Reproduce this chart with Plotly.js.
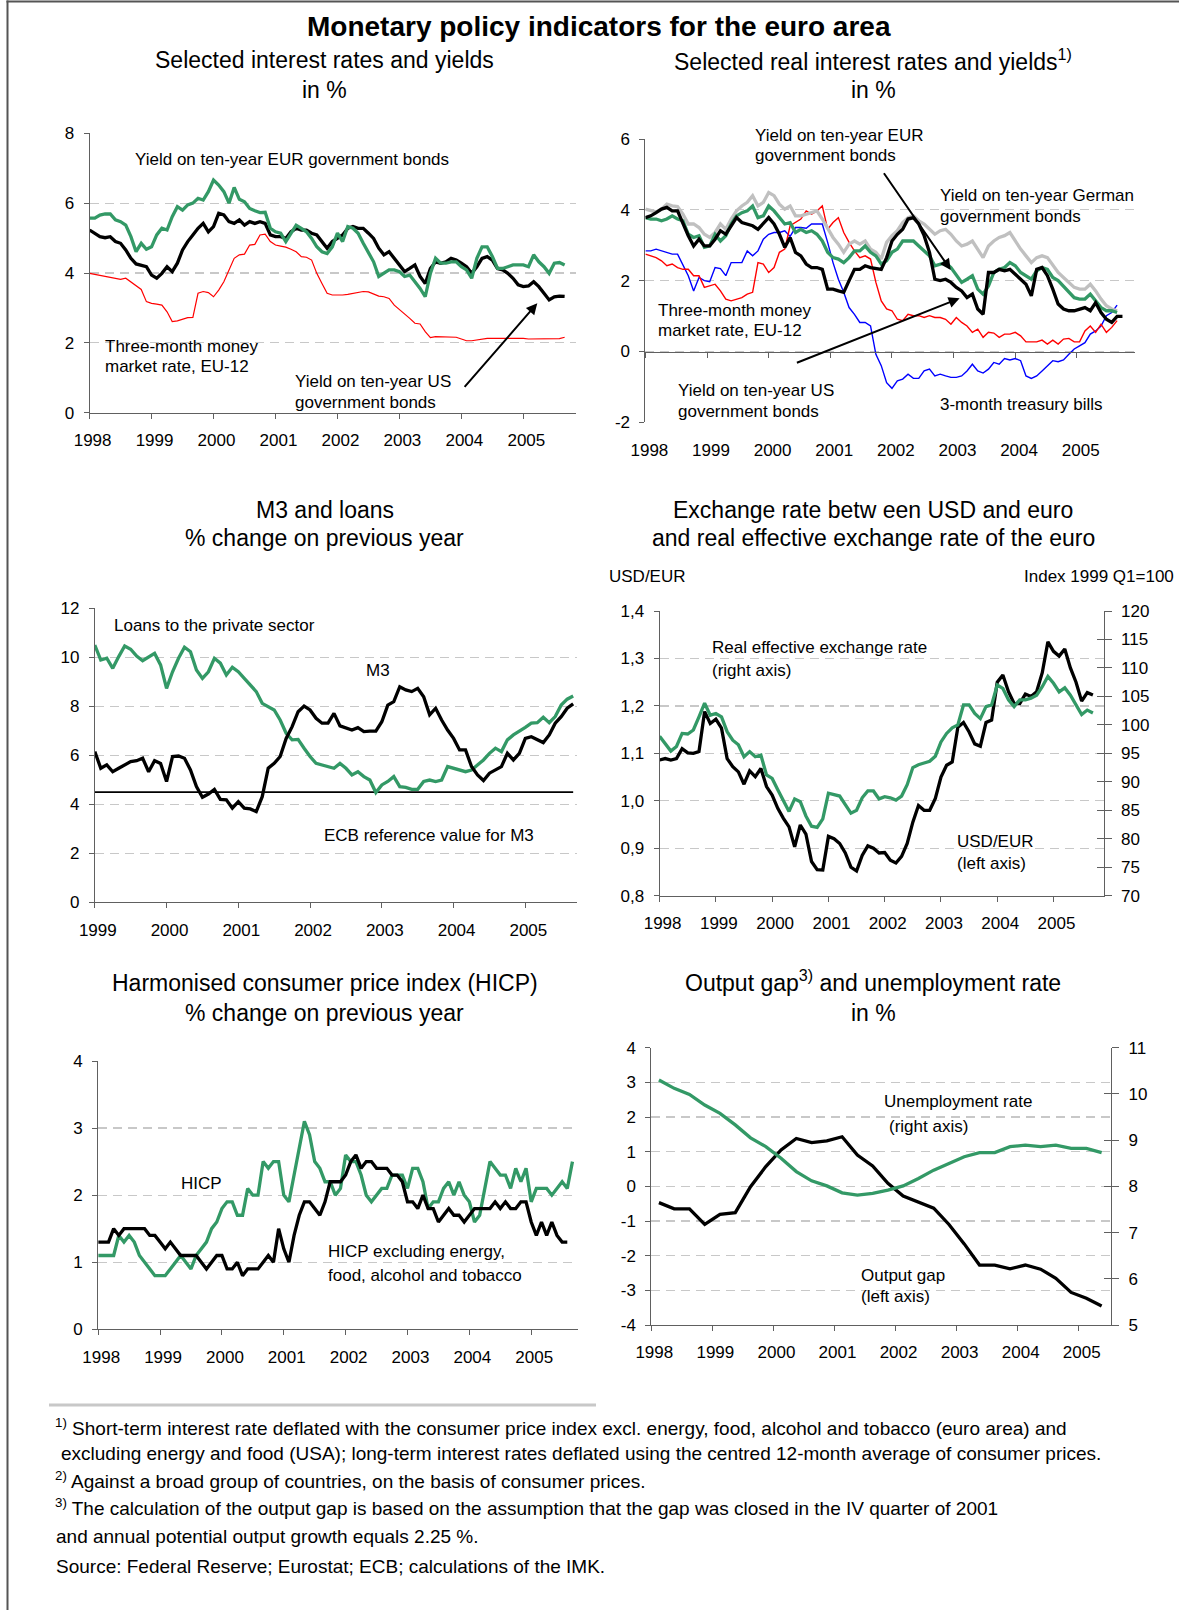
<!DOCTYPE html>
<html>
<head>
<meta charset="utf-8">
<title>Monetary policy indicators for the euro area</title>
<script src="https://cdn.plot.ly/plotly-3.0.1.min.js"></script>
<style>
html,body{margin:0;padding:0;background:#fff;}
#chart{width:1179px;height:1610px;}
</style>
</head>
<body>
<div id="chart"></div>
<script>
// ================= DATA =================
// Panel 1: Selected interest rates and yields, in % (monthly from Jan 1998)
const ratesStart = 1998;
const ratesStep = 1 / 12;
const eurGovYield10y = [5.57,5.57,5.66,5.69,5.69,5.52,5.47,5.37,5.04,4.61,
  4.85,4.68,4.75,5.09,5.28,5.23,5.61,5.9,5.8,5.95,6.0,6.14,6.09,6.33,6.66,6.52,6.33,6.0,6.45,6.11,
  6.04,5.85,5.78,5.73,5.74,5.28,5.18,5.14,4.9,5.14,5.37,5.28,5.18,4.99,4.75,4.61,4.56,4.75,5.14,4.9,
  5.33,5.28,5.14,4.85,4.56,4.32,3.9,3.99,4.09,4.09,4.04,3.9,3.94,3.75,3.56,3.32,3.99,4.42,4.28,4.28,
  4.32,4.32,4.18,4.09,3.85,4.42,4.75,4.75,4.47,4.13,4.13,4.18,4.23,4.23,4.23,4.18,4.52,4.32,4.18,3.99,
  4.28,4.3,4.23];
const usGovYield10y = [5.23,5.14,5.04,5.01,5.04,4.9,4.85,4.66,4.42,4.26,
  4.23,4.18,3.94,3.85,3.99,4.18,4.04,4.28,4.66,4.9,
  5.09,5.28,5.42,5.18,5.33,5.71,5.66,5.47,5.42,5.52,
  5.37,5.47,5.42,5.47,5.42,5.09,5.04,5.04,4.99,5.18,
  5.28,5.23,5.23,5.14,5.09,4.9,4.71,4.9,4.99,5.09,
  5.28,5.33,5.28,5.28,5.14,4.99,4.71,4.52,4.61,4.42,
  4.23,4.04,4.13,4.23,3.9,3.7,4.13,4.32,4.28,4.32,
  4.42,4.37,4.28,4.18,3.99,4.18,4.42,4.47,4.37,4.13,
  4.09,3.99,3.85,3.66,3.61,3.63,3.75,3.61,3.42,3.23,
  3.32,3.34,3.33];
const euMoneyMarket3m = [3.99,3.96,3.94,3.92,3.87,3.85,3.82,3.85,3.75,3.64,
  3.53,3.18,3.13,3.11,3.08,2.89,2.61,2.63,2.68,2.72,
  2.73,3.42,3.47,3.44,3.32,3.51,3.75,4.09,4.42,4.52,
  4.54,4.8,4.82,5.09,5.11,4.9,4.8,4.77,4.74,4.68,
  4.61,4.47,4.45,4.37,3.99,3.7,3.42,3.37,3.36,3.37,
  3.39,3.42,3.44,3.47,3.46,3.4,3.34,3.32,3.27,3.08,
  2.96,2.83,2.7,2.56,2.54,2.32,2.15,2.18,2.18,2.18,
  2.18,2.16,2.11,2.06,2.06,2.08,2.12,2.13,2.13,2.13,
  2.15,2.15,2.15,2.15,2.13,2.11,2.11,2.11,2.11,2.11,
  2.11,2.12,2.16];

// Panel 2: Selected real interest rates and yields, in % (sampled about every 1.04 months from Jan 1998)
const realStart = 1998;
const realStep = 0.087;
const realGermanYield10y = [4.02,3.97,3.94,4.02,4.16,4.11,4.09,3.88,3.6,3.6,
  3.5,3.31,3.22,3.36,3.6,3.45,3.74,3.97,4.11,4.21,
  4.4,4.11,4.21,4.49,4.4,4.16,4.02,4.11,3.83,3.83,
  3.88,3.92,3.97,3.74,3.5,3.22,3.03,2.8,3.03,3.12,
  3.03,3.12,2.89,2.8,2.61,3.08,3.27,3.41,3.64,3.78,
  3.83,3.69,3.6,3.45,3.31,3.41,3.45,3.31,3.12,2.98,
  3.03,3.12,2.89,2.65,2.98,3.12,3.22,3.27,3.36,3.12,
  2.89,2.7,2.51,2.65,2.7,2.65,2.42,2.23,2.09,1.95,
  1.81,1.76,1.76,1.9,1.71,1.48,1.29,1.2,1.15];
const realEurYield10y = [3.78,3.74,3.74,3.69,3.74,3.83,3.74,3.69,3.31,3.22,
  3.27,2.94,2.98,3.31,3.12,3.27,3.6,3.83,3.92,3.97,
  4.11,3.78,3.83,4.11,3.97,3.78,3.6,3.64,3.36,3.45,
  3.36,3.41,3.31,3.12,2.8,2.65,2.61,2.51,2.65,2.84,
  2.84,2.98,2.8,2.7,2.47,2.56,2.8,2.89,3.12,3.12,
  3.12,2.98,2.84,2.7,2.42,2.47,2.51,2.37,2.14,1.95,
  2.04,2.14,1.76,1.62,1.85,2.23,2.32,2.37,2.51,2.42,
  2.23,2.14,2.04,2.28,2.37,2.32,2.09,2.0,1.85,1.67,
  1.52,1.48,1.48,1.62,1.43,1.24,1.15,1.15,1.1];
const realUsYield10y = [3.78,3.83,3.92,4.02,4.07,3.97,3.97,3.6,3.27,2.98,
  3.17,2.98,2.98,3.17,3.41,3.31,3.55,3.78,3.64,3.6,
  3.55,3.45,3.6,3.78,3.6,3.31,2.94,3.22,2.8,2.7,
  2.47,2.37,2.37,2.32,1.76,1.76,1.71,1.67,2.0,2.32,
  2.32,2.42,2.37,2.34,2.32,2.65,3.12,3.31,3.45,3.74,
  3.78,3.6,3.27,2.8,2.04,2.0,2.04,1.95,1.81,1.71,
  1.52,1.62,1.2,1.05,2.23,2.23,2.32,2.28,2.32,2.18,
  2.04,1.9,1.57,2.32,2.37,2.14,1.76,1.34,1.2,1.15,
  1.15,1.2,1.24,1.15,1.38,1.1,0.91,0.82,0.99,0.99];
const realEuMoneyMarket3m = [2.75,2.7,2.65,2.56,2.42,2.47,2.37,2.32,2.32,2.14,
  2.14,1.81,1.85,1.9,1.71,1.48,1.43,1.48,1.52,1.62,
  1.67,2.51,2.47,2.23,2.37,2.8,2.89,3.55,3.64,3.74,
  3.97,3.88,3.97,4.11,3.45,3.64,3.78,3.36,3.08,2.84,
  2.65,2.7,2.61,1.95,1.43,1.2,1.15,0.91,0.87,1.05,
  1.01,1.01,0.96,1.01,0.96,0.96,0.91,0.77,0.96,0.82,
  0.72,0.54,0.63,0.4,0.54,0.52,0.4,0.49,0.49,0.54,
  0.44,0.27,0.27,0.27,0.32,0.21,0.32,0.21,0.35,0.37,
  0.27,0.27,0.58,0.72,0.54,0.77,0.54,0.68,0.87];
const realUsTreasury3m = [2.84,2.84,2.89,2.84,2.8,2.75,2.75,2.42,2.14,1.71,
  2.09,2.0,1.97,2.37,2.34,2.14,2.51,2.51,2.51,2.84,
  2.7,2.84,3.17,3.31,3.36,3.36,3.41,3.25,3.5,3.5,
  3.48,3.6,3.6,3.6,3.08,2.51,2.04,1.67,1.24,1.05,
  0.82,0.82,0.72,-0.08,-0.4,-0.88,-1.04,-0.83,-0.78,-0.64,
  -0.76,-0.76,-0.55,-0.5,-0.69,-0.64,-0.69,-0.73,-0.73,-0.69,
  -0.55,-0.36,-0.55,-0.61,-0.5,-0.31,-0.36,-0.2,-0.24,-0.2,
  -0.26,-0.69,-0.76,-0.69,-0.55,-0.4,-0.26,-0.29,-0.24,-0.08,
  0.07,0.16,0.25,0.49,0.58,0.72,1.01,1.1,1.31];

// Panel 3: M3 and loans, % change on previous year (monthly from Jan 1999)
const moneyStart = 1999;
const moneyStep = 1 / 12;
const loansPrivateSector = [10.5,9.89,9.96,9.55,10.03,10.46,10.33,10.05,9.86,10.03,
  10.16,9.69,8.73,9.41,9.96,10.41,10.23,9.48,9.14,9.41,
  9.96,9.76,9.28,9.59,9.41,9.14,8.87,8.6,8.12,7.99,
  7.85,7.44,6.9,6.63,6.65,6.29,5.95,5.67,5.61,5.54,
  5.47,5.67,5.47,5.2,5.33,5.13,4.99,4.48,4.79,4.93,
  5.13,4.72,4.69,4.61,4.61,4.93,4.99,4.93,4.99,5.54,
  5.47,5.43,5.33,5.4,5.61,5.81,6.08,6.29,6.15,6.63,
  6.83,6.97,7.14,7.31,7.33,7.55,7.33,7.58,8.05,8.29,
  8.42];
const m3Growth = [6.15,5.47,5.61,5.33,5.47,5.61,5.74,5.78,5.88,5.33,
  5.78,5.67,4.93,5.95,5.97,5.88,5.4,4.72,4.29,4.42,
  4.61,4.2,4.18,3.84,4.11,3.84,3.81,3.7,4.31,5.47,
  5.67,5.95,6.69,7.17,7.78,8.01,7.85,7.51,7.31,7.31,
  7.71,7.2,7.1,7.03,7.13,6.97,6.99,6.99,7.37,8.05,
  8.19,8.8,8.67,8.6,8.73,8.39,7.65,7.92,7.44,7.03,
  6.69,6.22,6.22,5.54,5.2,4.97,5.27,5.4,5.54,6.08,
  5.81,6.08,6.69,6.76,6.63,6.52,6.83,7.31,7.58,7.92,
  8.1];
const ecbReferenceM3 = 4.5;

// Panel 4: USD/EUR (left) and real effective exchange rate, index 1999 Q1 = 100 (right)
const fxStart = 1998;
const fxStep = 0.1;
const usdPerEur = [1.086,1.089,1.086,1.089,1.11,1.101,1.1,1.104,1.188,1.163,
  1.172,1.153,1.089,1.072,1.061,1.035,1.063,1.051,1.068,1.03,
  1.012,0.984,0.963,0.945,0.903,0.949,0.93,0.872,0.855,0.854,
  0.925,0.92,0.91,0.89,0.86,0.852,0.885,0.905,0.9,0.89,
  0.891,0.875,0.869,0.883,0.91,0.955,0.99,0.98,0.98,1.005,
  1.05,1.075,1.082,1.155,1.165,1.145,1.12,1.115,1.165,1.17,
  1.25,1.265,1.23,1.205,1.205,1.225,1.22,1.23,1.27,1.335,
  1.315,1.305,1.32,1.28,1.25,1.21,1.228,1.223];
const realEffectiveRate = [98.0,96.8,95.4,96.2,98.5,98.4,99.1,101.4,103.8,101.7,
  102.0,101.4,98.8,97.3,96.5,94.4,95.3,94.4,94.7,91.2,
  90.6,88.6,86.8,84.8,87.0,86.5,84.0,82.2,82.0,83.5,
  88.0,87.8,87.5,86.0,84.5,85.0,87.2,88.4,88.4,87.0,
  87.4,87.2,86.8,87.5,89.5,92.5,93.0,93.3,93.6,94.5,
  97.0,98.5,99.5,100.0,103.5,103.5,102.0,101.1,103.2,103.5,
  107.0,106.4,104.4,103.2,104.4,104.4,104.7,105.2,106.7,108.5,
  107.3,105.8,106.5,105.2,103.5,101.8,102.6,102.1];

// Panel 5: HICP, % change on previous year (monthly from Jan 1998)
const hicpStart = 1998;
const hicpStep = 1 / 12;
const hicp = [1.1,1.1,1.1,1.1,1.4,1.3,1.4,1.3,1.1,1.0,
  0.9,0.8,0.8,0.8,0.9,1.0,1.1,1.0,0.9,1.1,
  1.2,1.3,1.5,1.6,1.8,1.9,1.9,1.7,1.7,2.1,
  2.0,2.0,2.5,2.4,2.5,2.5,2.0,1.9,2.3,2.7,
  3.1,2.9,2.5,2.4,2.2,2.2,2.0,2.1,2.6,2.5,
  2.5,2.3,2.0,1.9,2.0,2.1,2.1,2.3,2.3,2.3,
  2.1,2.4,2.4,2.2,1.8,1.9,1.9,2.1,2.2,2.0,
  2.2,2.0,1.9,1.6,1.7,2.1,2.5,2.4,2.3,2.3,
  2.1,2.4,2.2,2.4,1.9,2.1,2.1,2.1,2.0,2.1,
  2.2,2.1,2.5];
const hicpCore = [1.3,1.3,1.3,1.5,1.4,1.5,1.5,1.5,1.5,1.5,
  1.4,1.4,1.3,1.2,1.3,1.2,1.1,1.1,1.1,1.1,
  1.0,0.9,1.0,1.1,1.1,0.9,0.9,1.0,0.8,0.9,
  0.9,0.9,1.0,1.1,1.0,1.5,1.2,1.0,1.4,1.7,
  1.9,1.9,1.8,1.7,1.9,2.2,2.2,2.2,2.3,2.5,
  2.6,2.4,2.5,2.5,2.4,2.4,2.4,2.3,2.3,2.2,
  1.9,1.9,1.8,2.0,1.8,1.8,1.6,1.7,1.8,1.7,
  1.7,1.6,1.7,1.8,1.8,1.8,1.8,1.9,1.8,1.9,
  1.8,1.8,1.9,1.9,1.6,1.4,1.6,1.4,1.6,1.4,
  1.3,1.3];

// Panel 6: output gap (left, %) and unemployment rate (right, %), quarterly from 1998 Q1
const gapStart = 1998.125;
const gapStep = 0.25;
const outputGap = [-0.47,-0.65,-0.65,-1.1,-0.81,-0.76,-0.01,0.57,1.05,1.38,
  1.26,1.31,1.43,0.9,0.59,0.09,-0.28,-0.46,-0.63,-1.1,
  -1.66,-2.27,-2.27,-2.38,-2.27,-2.39,-2.65,-3.06,-3.23,-3.45];
const unemploymentRate = [10.3,10.12,9.99,9.76,9.58,9.33,9.05,8.86,8.61,8.32,
  8.12,8.01,7.86,7.81,7.85,7.92,8.01,8.17,8.35,8.5,
  8.64,8.73,8.73,8.86,8.89,8.86,8.89,8.82,8.82,8.73];

// Tick labels
const years1998 = [1998,1999,2000,2001,2002,2003,2004,2005];
const years1999 = [1999,2000,2001,2002,2003,2004,2005];
const realRateTicks = [-2,0,2,4,6];
const realRateLabels = ['-2','0','2','4','6'];
const gapTicks = [-4,-3,-2,-1,0,1,2,3,4];
const gapLabels = ['-4','-3','-2','-1','0','1','2','3','4'];

// ================= STYLE / LAYOUT =================
const W = 1179, H = 1610;
const fx = p => p / W;
const fy = p => 1 - p / H;
const FONT = '"Liberation Sans", Arial, Helvetica, sans-serif';
const AX = '#606060';
const GREEN = '#339966';
const TICKF = {family: FONT, size: 17, color: '#000'};
const LBL = 17;     // in-chart labels
const SUB = 23;     // panel titles
const NOTE = 19;    // footnotes

function xAxis(l, r, range, anchor, vals, extra) {
  return Object.assign({
    domain: [fx(l), fx(r)], range: range, anchor: anchor,
    tickmode: 'array', tickvals: vals, ticktext: vals.map(String),
    showgrid: false, zeroline: false, showline: true, linecolor: AX, linewidth: 1,
    ticks: 'outside', ticklen: 5, tickwidth: 1, tickcolor: AX,
    tickfont: TICKF, ticklabelshift: 3, ticklabelstandoff: 7, fixedrange: true
  }, extra || {});
}
function yAxis(top, bottom, range, dtick, anchor, extra) {
  return Object.assign({
    domain: [fy(bottom), fy(top)], range: range, tick0: range[0], dtick: dtick, anchor: anchor,
    showgrid: true, gridcolor: '#c8c8c8', gridwidth: 1.2, griddash: '9px,6px',
    zeroline: false, showline: true, linecolor: AX, linewidth: 1,
    ticks: 'outside', ticklen: 5, tickwidth: 1, tickcolor: AX,
    tickfont: TICKF, ticklabelstandoff: 6, fixedrange: true
  }, extra || {});
}
function yRight(range, dtick, anchor, overlaying, inside) {
  return {
    overlaying: overlaying, side: 'right', anchor: anchor, range: range, tick0: range[0], dtick: dtick,
    showgrid: false, zeroline: false, showline: !inside, linecolor: AX, linewidth: 1,
    ticks: inside ? 'inside' : 'outside', ticklen: 7, tickwidth: 1, tickcolor: AX,
    showticklabels: !inside, tickfont: TICKF, ticklabelstandoff: 6, fixedrange: true
  };
}
function series(y, x0, dx, xa, ya, color, width) {
  return {type: 'scatter', mode: 'lines', x0: x0, dx: dx, y: y, xaxis: xa, yaxis: ya,
    line: {color: color, width: width}, hoverinfo: 'skip', showlegend: false};
}
function txt(text, x, y, size, anchor, extra) {
  return Object.assign({xref: 'paper', yref: 'paper', x: fx(x), y: fy(y), text: text, showarrow: false,
    xanchor: anchor || 'left', yanchor: 'middle', align: anchor || 'left',
    font: {family: FONT, size: size, color: '#000'}}, extra || {});
}
function arrow(hx, hy, tx, ty) {
  return {xref: 'paper', yref: 'paper', x: fx(hx), y: fy(hy), ax: tx - hx, ay: ty - hy,
    axref: 'pixel', ayref: 'pixel', text: '', showarrow: true, arrowhead: 2, arrowsize: 1.1,
    arrowwidth: 2, arrowcolor: '#000', standoff: 0};
}

const traces = [
  // Panel 1
  series(euMoneyMarket3m, ratesStart, ratesStep, 'x', 'y', '#ff0000', 1.2),
  series(usGovYield10y, ratesStart, ratesStep, 'x', 'y', '#000000', 3.3),
  series(eurGovYield10y, ratesStart, ratesStep, 'x', 'y', GREEN, 3.3),
  // Panel 2
  series(realUsTreasury3m, realStart, realStep, 'x2', 'y2', '#0000ff', 1.4),
  series(realEuMoneyMarket3m, realStart, realStep, 'x2', 'y2', '#ff0000', 1.4),
  series(realGermanYield10y, realStart, realStep, 'x2', 'y2', '#c0c0c0', 3.3),
  series(realEurYield10y, realStart, realStep, 'x2', 'y2', GREEN, 3.3),
  series(realUsYield10y, realStart, realStep, 'x2', 'y2', '#000000', 3.3),
  // Panel 3
  {type: 'scatter', mode: 'lines', xaxis: 'x3', yaxis: 'y3', hoverinfo: 'skip', showlegend: false,
   x: [moneyStart, moneyStart + (m3Growth.length - 1) * moneyStep], y: [ecbReferenceM3, ecbReferenceM3],
   line: {color: '#000', width: 1.8}},
  series(loansPrivateSector, moneyStart, moneyStep, 'x3', 'y3', GREEN, 3.3),
  series(m3Growth, moneyStart, moneyStep, 'x3', 'y3', '#000000', 3.3),
  // Panel 4
  series(realEffectiveRate, fxStart, fxStep, 'x4', 'y7', GREEN, 3.3),
  series(usdPerEur, fxStart, fxStep, 'x4', 'y4', '#000000', 3.3),
  // Panel 5
  series(hicp, hicpStart, hicpStep, 'x5', 'y5', GREEN, 3.3),
  series(hicpCore, hicpStart, hicpStep, 'x5', 'y5', '#000000', 3.3),
  // Panel 6
  series(unemploymentRate, gapStart, gapStep, 'x6', 'y9', GREEN, 3.3),
  series(outputGap, gapStart, gapStep, 'x6', 'y6', '#000000', 3.3),
  // empty helpers so that overlay axes are created
  {type: 'scatter', x: [], y: [], xaxis: 'x7', yaxis: 'y2', hoverinfo: 'skip', showlegend: false},
  {type: 'scatter', x: [], y: [], xaxis: 'x4', yaxis: 'y8', hoverinfo: 'skip', showlegend: false},
  {type: 'scatter', x: [], y: [], xaxis: 'x6', yaxis: 'y10', hoverinfo: 'skip', showlegend: false}
];

const layout = {
  width: W, height: H, margin: {l: 0, r: 0, t: 0, b: 0},
  paper_bgcolor: '#fff', plot_bgcolor: 'rgba(0,0,0,0)', showlegend: false,
  separators: ',.',
  font: {family: FONT, color: '#000'},
  // Panel 1
  xaxis: xAxis(89.6, 576, [1998, 2005.85], 'y', years1998),
  yaxis: yAxis(133.3, 412.7, [0, 8], 2, 'x'),
  // Panel 2
  xaxis2: xAxis(645.4, 1134.6, [1998, 2005.94], 'y2', years1998,
    {showline: false, ticklen: 12, tickcolor: 'rgba(0,0,0,0)', ticklabelshift: 4, ticklabelstandoff: 0}),
  xaxis7: xAxis(645.4, 1134.6, [1998, 2005.94], 'free', years1998,
    {overlaying: 'x2', position: fy(352.3), showticklabels: false}),
  yaxis2: yAxis(139, 422.3, [-2, 6], 2, 'x2',
    {tickmode: 'array', tickvals: realRateTicks, ticktext: realRateLabels}),
  // Panel 3
  xaxis3: xAxis(94.8, 577, [1999, 2005.72], 'y3', years1999),
  yaxis3: yAxis(608.3, 902.3, [0, 12], 2, 'x3'),
  // Panel 4
  xaxis4: xAxis(659.6, 1103.6, [1998, 2005.89], 'y4', years1998),
  yaxis4: yAxis(611, 895.7, [0.8, 1.4], 0.1, 'x4', {tickformat: '.1f'}),
  yaxis7: yRight([70, 120], 5, 'x4', 'y4', false),
  yaxis8: yRight([70, 120], 5, 'x4', 'y4', true),
  // Panel 5
  xaxis5: xAxis(98.2, 577.6, [1998, 2005.75], 'y5', years1998),
  yaxis5: yAxis(1061, 1329.3, [0, 4], 1, 'x5'),
  // Panel 6
  xaxis6: xAxis(651.3, 1111.1, [1998, 2005.53], 'y6', years1998),
  yaxis6: yAxis(1047.7, 1325, [-4, 4], 1, 'x6',
    {tickmode: 'array', tickvals: gapTicks, ticktext: gapLabels}),
  yaxis9: yRight([5, 11], 1, 'x6', 'y6', false),
  yaxis10: yRight([5, 11], 1, 'x6', 'y6', true),
  shapes: [
    {type: 'line', xref: 'paper', yref: 'paper', x0: fx(7.5), x1: fx(7.5), y0: 0, y1: fy(0.5), line: {color: '#555', width: 2}},
    {type: 'line', xref: 'paper', yref: 'paper', x0: fx(6.5), x1: 1, y0: fy(1.5), y1: fy(1.5), line: {color: '#555', width: 2}},
    {type: 'line', xref: 'paper', yref: 'paper', x0: fx(49), x1: fx(596), y0: fy(1405), y1: fy(1405), line: {color: '#c8c8c8', width: 3}}
  ],
  annotations: [
    txt('<b>Monetary policy indicators for the euro area</b>', 599, 26.7, 28, 'center'),
    // subtitles
    txt('Selected interest rates and yields', 324.5, 59.6, SUB, 'center'),
    txt('in %', 324.5, 90.4, SUB, 'center'),
    txt('Selected real interest rates and yields<sup>1)</sup>', 873, 59.6, SUB, 'center'),
    txt('in %', 873, 90.4, SUB, 'center'),
    txt('M3 and loans', 324.5, 510.4, SUB, 'center'),
    txt('% change on previous year', 324.5, 538, SUB, 'center'),
    txt('Exchange rate betw een USD and euro', 873, 510.4, SUB, 'center'),
    txt('and real effective exchange rate of the euro', 873, 538, SUB, 'center'),
    txt('Harmonised consumer price index (HICP)', 324.5, 983, SUB, 'center'),
    txt('% change on previous year', 324.5, 1012.6, SUB, 'center'),
    txt('Output gap<sup>3)</sup> and unemployment rate', 873, 981, SUB, 'center'),
    txt('in %', 873, 1012.6, SUB, 'center'),
    // panel 1 labels
    txt('Yield on ten-year EUR government bonds', 132.7, 160, LBL),
    txt('Three-month money', 103.4, 346.7, LBL),
    txt('market rate, EU-12', 103.4, 366.7, LBL),
    txt('Yield on ten-year US', 292.8, 381.7, LBL),
    txt('government bonds', 292.8, 402.7, LBL),
    arrow(537.3, 303.3, 463.3, 388.3),
    // panel 2 labels
    txt('Yield on ten-year EUR', 752.5, 135, LBL),
    txt('government bonds', 752.5, 155, LBL),
    txt('Yield on ten-year German', 938.2, 195, LBL),
    txt('government bonds', 938.2, 216.7, LBL),
    txt('Three-month money', 656.1, 310, LBL),
    txt('market rate, EU-12', 656.1, 330, LBL),
    txt('Yield on ten-year US', 675.7, 390, LBL),
    txt('government bonds', 675.7, 411.7, LBL),
    txt('3-month treasury bills', 938.2, 405, LBL),
    arrow(950.7, 270, 882.9, 171.7),
    arrow(959.6, 298.3, 795.4, 363.3),
    // panel 3 labels
    txt('Loans to the private sector', 112, 625, LBL),
    txt('M3', 364, 670, LBL),
    txt('ECB reference value for M3', 322, 835, LBL),
    // panel 4 labels
    txt('USD/EUR', 606.9, 576.7, LBL),
    txt('Index 1999 Q1=100', 1176, 576.7, LBL, 'right'),
    txt('Real effective exchange rate', 710.4, 647.3, LBL),
    txt('(right axis)', 710.4, 670, LBL),
    txt('USD/EUR', 955, 841.7, LBL),
    txt('(left axis)', 955, 864, LBL),
    // panel 5 labels
    txt('HICP', 179.1, 1183.3, LBL),
    txt('HICP excluding energy,', 325.5, 1251.7, LBL),
    txt('food, alcohol and tobacco', 325.5, 1275, LBL),
    // panel 6 labels
    txt('Unemployment rate', 881.6, 1101.7, LBL),
    txt('(right axis)', 887.3, 1126, LBL),
    txt('Output gap', 859, 1275, LBL),
    txt('(left axis)', 859, 1296.7, LBL),
    // footnotes
    txt('<sup>1)</sup> Short-term interest rate deflated with the consumer price index excl. energy, food, alcohol and tobacco (euro area) and', 53, 1426.5, NOTE),
    txt('excluding energy and food (USA); long-term interest rates deflated using the centred 12-month average of consumer prices.', 58.5, 1453.2, NOTE),
    txt('<sup>2)</sup> Against a broad group of countries, on the basis of consumer prices.', 53, 1479.9, NOTE),
    txt('<sup>3)</sup> The calculation of the output gap is based on the assumption that the gap was closed in the IV quarter of 2001', 53, 1506.6, NOTE),
    txt('and annual potential output growth equals 2.25 %.', 54.4, 1536.4, NOTE),
    txt('Source: Federal Reserve; Eurostat; ECB; calculations of the IMK.', 54.4, 1566.2, NOTE)
  ]
};

Plotly.newPlot('chart', traces, layout, {staticPlot: true, displayModeBar: false});
</script>
</body>
</html>
